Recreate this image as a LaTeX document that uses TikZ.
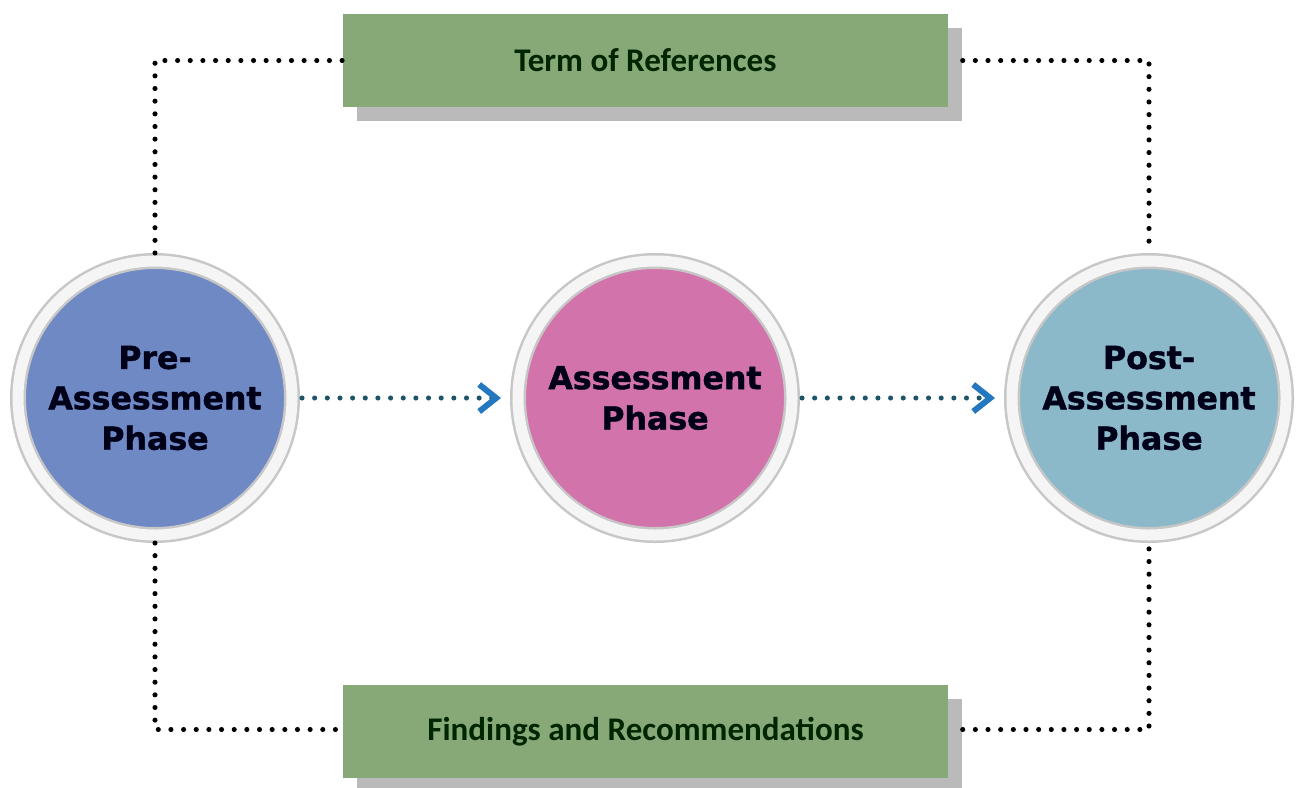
\documentclass[tikz,border=0pt]{standalone}
\usepackage{fontspec}
\usetikzlibrary{arrows.meta,shadows}
\newfontfamily\circfont[BoldFeatures={FakeBold=1.3}]{DejaVu Sans}
\newfontfamily\boxfont{Carlito}
\definecolor{boxgreen}{HTML}{86A977}
\definecolor{preblue}{HTML}{6F89C5}
\definecolor{asmpink}{HTML}{D273AB}
\definecolor{postteal}{HTML}{8CB9CA}
\definecolor{arrowblue}{HTML}{2378C0}
\definecolor{dotteal}{HTML}{1E5468}

\begin{document}
\begin{tikzpicture}[x=1cm,y=1cm,
    phase/.style={circle, minimum size=2.74cm, inner sep=0pt, outer sep=0.08cm,
        line width=0.025cm, draw=black!22, double=black!4, double distance=0.11cm,
        align=center, text=black!90!blue,
        font=\circfont\bfseries\fontsize{9}{11.5}\selectfont},
    stage/.style={rectangle, fill=boxgreen, minimum width=6.05cm, minimum height=0.93cm,
        general shadow={shadow xshift=0.14cm, shadow yshift=-0.14cm, fill=black!27},
        text=black!85!green, font=\boxfont\bfseries\fontsize{9.4}{11}\selectfont},
    link/.style={line width=1.45pt, dash pattern=on 0pt off 3.6pt, line cap=round},
    flow/.style={link, dotteal, shorten <=0.02cm, shorten >=0.09cm,
        -{Straight Barb[color=arrowblue, length=0.17cm, width=0.27cm, line width=1.7pt]}}]
    \useasboundingbox (0,0) rectangle (13,7.87);

    \node[stage] (TOR) at (6.455,7.265) {Term of References};
    \node[stage] (FAR) at (6.455,0.555) {Findings and Recommendations};

    \node[phase, fill=preblue]   (PRE)  at (1.55,3.89)  {Pre-\\Assessment\\Phase};
    \node[phase, fill=asmpink]   (ASM)  at (6.55,3.89)  {Assessment\\Phase};
    \node[phase, fill=postteal]  (POST) at (11.49,3.89) {Post-\\Assessment\\Phase};

    \draw [flow] (PRE) -- (ASM);
    \draw [flow] (ASM) -- (POST);

    \draw [link] (PRE.north) |- (TOR.west);
    \draw [link, shorten <=0.14cm] (TOR.east) -| (POST.north);
    \draw [link] (PRE.south) |- ([yshift=0.02cm]FAR.west);
    \draw [link, shorten <=0.14cm] ([yshift=0.02cm]FAR.east) -| (POST.south);
\end{tikzpicture}
\end{document}
